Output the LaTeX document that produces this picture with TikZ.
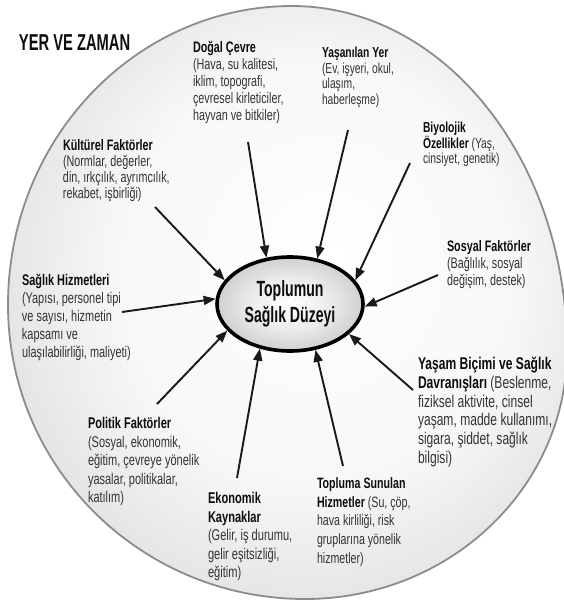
\documentclass[tikz,border=0pt]{standalone}
\usepackage{fontspec}
\setmainfont{Liberation Sans}[FakeStretch=0.71]
\newfontfamily\condf{Liberation Sans}[FakeStretch=0.64]
\usetikzlibrary{shapes.geometric,arrows.meta}
\pgfdeclareradialshading{bigsh}{\pgfpoint{4bp}{4bp}}{color(0bp)=(white); color(18bp)=(white!97!black); color(50bp)=(black!28)}
\pgfdeclareradialshading{censh}{\pgfpoint{0bp}{0bp}}{color(0bp)=(white); color(14bp)=(white!92!black); color(50bp)=(black!42)}
\newcommand{\hd}[1]{{\bfseries\color{black!95}#1}}
\tikzset{
  lbl/.style={anchor=north west, inner sep=0pt, outer sep=0pt, align=left, text=black!80},
  fs/.style 2 args={font=\fontsize{#1}{#2}\selectfont},
  arr/.style={line width=1.9pt, black!90, -{Triangle[length=12pt,width=9pt]}},
}
\begin{document}
\begin{tikzpicture}[x=1pt,y=-1pt]
\useasboundingbox (0,0) rectangle (563,605);
\path[draw=black!45, line width=1.8pt, shading=bigsh]
  (8,305) arc[start angle=180, end angle=270, x radius=284, y radius=299]
          arc[start angle=270, end angle=360, x radius=275, y radius=344]
          arc[start angle=0, end angle=90, x radius=262, y radius=249]
          arc[start angle=90, end angle=180, x radius=297, y radius=294] -- cycle;
\node[ellipse, draw=black, line width=3.6pt, shading=censh, minimum width=146pt, minimum height=94pt, inner sep=0pt, align=center, font=\condf\fontsize{22}{26.7}\bfseries\selectfont, text=black!95] (cen) at (290,304) {Toplumun\\Sağlık Düzeyi};

\node[lbl, font=\condf\fontsize{23}{26}\bfseries\selectfont, text=black!95] (yer) at (19,34.7) {YER VE ZAMAN};

\node[lbl, fs={15.2}{17}] (dog) at (193,41.5) {\hd{Doğal Çevre}\\(Hava, su kalitesi,\\iklim, topografi,\\çevresel kirleticiler,\\hayvan ve bitkiler)};
\node[lbl, fs={15.2}{16}] (kul) at (63,139.5) {\hd{Kültürel Faktörler}\\(Normlar, değerler,\\din, ırkçılık, ayrımcılık,\\rekabet, işbirliği)};
\node[lbl, fs={14.5}{15.7}] (yas) at (322,46.8) {\hd{Yaşanılan Yer}\\(Ev, işyeri, okul,\\ulaşım,\\haberleşme)};
\node[lbl, fs={14.5}{15.7}] (biy) at (423,121.8) {\hd{Biyolojik}\\\hd{Özellikler} (Yaş,\\cinsiyet, genetik)};
\node[lbl, fs={15.2}{17}] (sos) at (447,240.5) {\hd{Sosyal Faktörler}\\(Bağlılık, sosyal\\değişim, destek)};
\node[lbl, fs={15.4}{18}] (sag) at (22,274.5) {\hd{Sağlık Hizmetleri}\\(Yapısı, personel tipi\\ve sayısı, hizmetin\\kapsamı ve\\ulaşılabilirliği, maliyeti)};
\node[lbl, fs={17}{18.8}] (yasam) at (418,357) {\hd{Yaşam Biçimi ve Sağlık}\\\hd{Davranışları} (Beslenme,\\fiziksel aktivite, cinsel\\yaşam, madde kullanımı,\\sigara, şiddet, sağlık\\bilgisi)};
\node[lbl, fs={15.5}{18.5}] (pol) at (88,417.4) {\hd{Politik Faktörler}\\(Sosyal, ekonomik,\\eğitim, çevreye yönelik\\yasalar, politikalar,\\katılım)};
\node[lbl, fs={15.6}{18.5}] (eko) at (208,492.4) {\hd{Ekonomik}\\\hd{Kaynaklar}\\(Gelir, iş durumu,\\gelir eşitsizliği,\\eğitim)};
\node[lbl, fs={15}{18.7}] (top) at (317,477.6) {\hd{Topluma Sunulan}\\\hd{Hizmetler} (Su, çöp,\\hava kirliliği, risk\\gruplarına yönelik\\hizmetler)};

\coordinate (tkul) at (155,207);
\coordinate (tdog) at (248,142);
\coordinate (tyas) at (348,130);
\coordinate (tbiy) at (410,163);
\coordinate (tsos) at (438,275);
\coordinate (tyasam) at (413,390);
\coordinate (ttop) at (343,466);
\coordinate (teko) at (237,478);
\coordinate (tpol) at (157,404);
\coordinate (tsag) at (122,312);

\draw[arr] (tkul) -- (cen.160);
\draw[arr] (tdog) -- (cen.117);
\draw[arr] (tyas) -- (cen.59);
\draw[arr] (tbiy) -- (cen.20);
\draw[arr] (tsos) -- (cen.-2);
\draw[arr] (tyasam) -- (cen.-27);
\draw[arr] (ttop) -- (cen.-61);
\draw[arr] (teko) -- (cen.-124);
\draw[arr] (tpol) -- (cen.-157);
\draw[arr] (tsag) -- (cen.176);
\end{tikzpicture}
\end{document}
